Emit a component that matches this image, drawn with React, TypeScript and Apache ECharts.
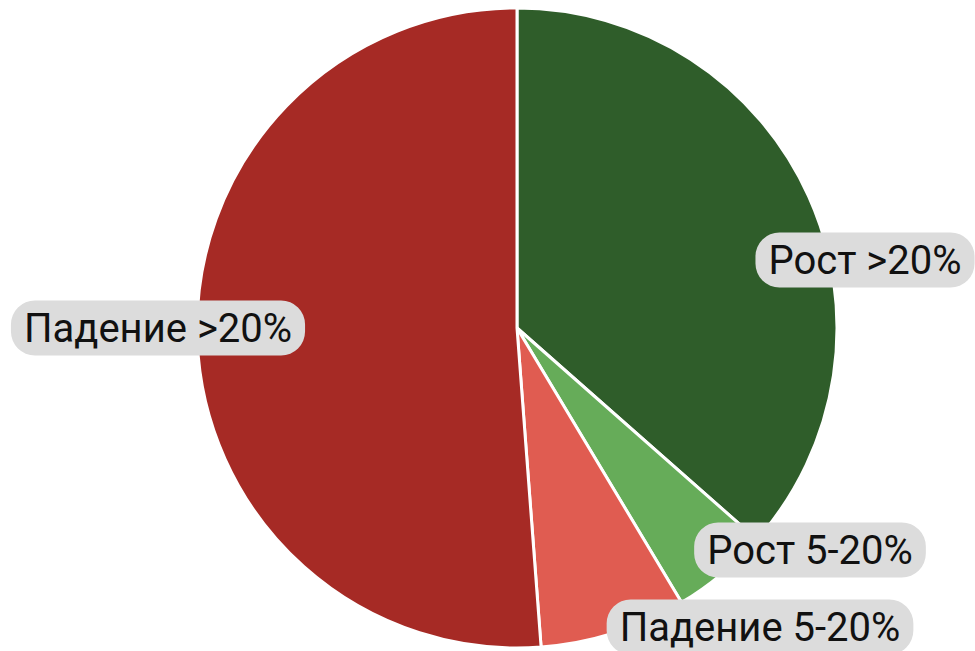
import React, { useEffect, useRef } from "react";
import * as echarts from "echarts";

const categories = ["Рост >20%", "Рост 5-20%", "Падение 5-20%", "Падение >20%"];
const values = [36.5, 4.9, 7.4, 51.2];
const colors = ["#2f5d2a", "#66ac59", "#e05c51", "#a62a25"];
const labelCenters: [number, number][] = [
  [865, 260],
  [810, 550],
  [760, 627],
  [158, 328],
];

export default function App() {
  const ref = useRef<HTMLDivElement>(null);
  useEffect(() => {
    document.body.style.margin = "0";
    const chart = echarts.init(ref.current!, null, { renderer: "svg" });
    chart.setOption({
      animation: false,
      backgroundColor: "#ffffff",
      series: [
        {
          type: "pie",
          center: [517, 328],
          radius: [0, 320],
          startAngle: 90,
          clockwise: true,
          data: categories.map((name, i) => ({
            name,
            value: values[i],
            itemStyle: { color: colors[i] },
          })),
          itemStyle: { borderColor: "#ffffff", borderWidth: 3 },
          label: {
            show: true,
            position: "inside",
            overflow: "none",
            formatter: "{b}",
            fontFamily: "Roboto",
            fontSize: 40,
            lineHeight: 44,
            color: "#111111",
            backgroundColor: "#dcdcdc",
            borderRadius: 24,
            padding: [7, 13, 4, 13],
          },
          labelLine: { show: false },
          labelLayout: (params: any) => {
            const p = labelCenters[params.dataIndex];
            return { x: p[0], y: p[1], align: "center", verticalAlign: "middle" };
          },
          emphasis: { disabled: true },
        },
      ],
    });
    return () => chart.dispose();
  }, []);
  return <div ref={ref} style={{ width: 975, height: 651 }} />;
}
